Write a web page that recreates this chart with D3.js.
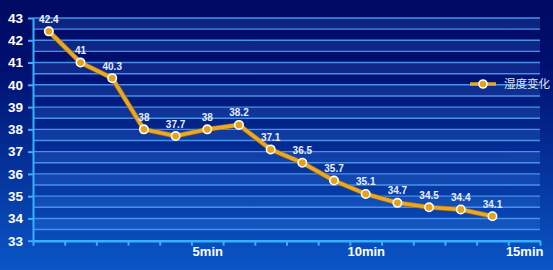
<!DOCTYPE html>
<html>
<head>
<meta charset="utf-8">
<script src="https://cdn.jsdelivr.net/npm/d3@7"></script>
<style>
  html, body { margin: 0; padding: 0; background: #00106a; }
  svg { display: block; }
</style>
</head>
<body>
<svg id="chart" width="553" height="270"></svg>
<script>
// ---- data ----
const minutes = [0, 1, 2, 3, 4, 5, 6, 7, 8, 9, 10, 11, 12, 13, 14];
const humidity = [42.4, 41, 40.3, 38, 37.7, 38, 38.2, 37.1, 36.5, 35.7, 35.1, 34.7, 34.5, 34.4, 34.1];
const xTickLabels = [[5, "5min"], [10, "10min"], [15, "15min"]];
const yTicks = [33, 34, 35, 36, 37, 38, 39, 40, 41, 42, 43];
const seriesName = "湿度变化";

const W = 553, H = 270;
const plotLeft = 33, plotRight = 540, plotTop = 18, plotBottom = 240.7;

const svg = d3.select("#chart");
const defs = svg.append("defs");
const bg = defs.append("linearGradient").attr("id", "bg").attr("x1", 0).attr("y1", 0).attr("x2", 0).attr("y2", 1);
bg.append("stop").attr("offset", "0%").attr("stop-color", "#000a62");
bg.append("stop").attr("offset", "25%").attr("stop-color", "#001070");
bg.append("stop").attr("offset", "100%").attr("stop-color", "#0a56c6");
svg.append("rect").attr("width", W).attr("height", H).attr("fill", "url(#bg)");

const x = d3.scaleLinear().domain([-0.5, 15.5]).range([plotLeft, plotRight]);
const y = d3.scaleLinear().domain([33, 43]).range([plotBottom, plotTop]);

// alternating bands
const halfSteps = d3.range(33, 43, 0.5);
svg.append("g").selectAll("rect").data(halfSteps.filter((v, i) => i % 2 === 1)).join("rect")
  .attr("x", plotLeft).attr("width", plotRight - plotLeft)
  .attr("y", d => y(d + 0.5)).attr("height", d => y(d) - y(d + 0.5))
  .attr("fill", "#3f8cf0").attr("fill-opacity", 0.2);

// grid lines every 0.5
svg.append("g").selectAll("line").data(d3.range(33.5, 43.01, 0.5)).join("line")
  .attr("x1", plotLeft).attr("x2", plotRight)
  .attr("y1", d => y(d)).attr("y2", d => y(d))
  .attr("stroke", "#4a90ea").attr("stroke-width", 1.4);

// y axis
const yAxis = svg.append("g").attr("transform", `translate(${plotLeft},0)`)
  .call(d3.axisLeft(y).tickValues(yTicks).tickSize(5).tickPadding(5).tickSizeOuter(0));
yAxis.select(".domain").attr("stroke", "#36b0ff").attr("stroke-width", 2);
yAxis.selectAll(".tick line").attr("stroke", "#36b0ff").attr("stroke-width", 2);
yAxis.selectAll("text").attr("fill", "#ffffff").attr("font-family", "Liberation Sans, Arial, sans-serif")
  .attr("font-weight", "bold").attr("font-size", 13.5);

// x axis ticks at boundaries
const xAxis = svg.append("g").attr("transform", `translate(0,${plotBottom})`)
  .call(d3.axisBottom(x).tickValues(d3.range(-0.5, 15.6, 1)).tickSize(5).tickFormat("").tickSizeOuter(0));
xAxis.select(".domain").attr("stroke", "#36b0ff").attr("stroke-width", 2.5);
xAxis.selectAll(".tick line").attr("stroke", "#36b0ff").attr("stroke-width", 2);

const xLab = svg.append("g").attr("transform", `translate(0,${plotBottom})`)
  .call(d3.axisBottom(x).tickValues(xTickLabels.map(d => d[0]))
    .tickFormat(v => xTickLabels.find(d => d[0] === v)[1]).tickSize(0).tickPadding(6));
xLab.select(".domain").remove();
xLab.selectAll("text").attr("fill", "#ffffff").attr("font-family", "Liberation Sans, Arial, sans-serif")
  .attr("font-weight", "bold").attr("font-size", 13);

// line
const pts = minutes.map((m, i) => [m, humidity[i]]);
const line = d3.line().x(d => x(d[0])).y(d => y(d[1]));
svg.append("path").datum(pts).attr("d", line)
  .attr("fill", "none").attr("stroke", "#a86a10").attr("stroke-width", 5).attr("stroke-linejoin", "round");
svg.append("path").datum(pts).attr("d", line)
  .attr("fill", "none").attr("stroke", "#e6a928").attr("stroke-width", 3.6).attr("stroke-linejoin", "round");

svg.append("g").selectAll("circle").data(pts).join("circle")
  .attr("cx", d => x(d[0])).attr("cy", d => y(d[1])).attr("r", 4.2)
  .attr("fill", "#e3a11c").attr("stroke", "#ffffff").attr("stroke-width", 1.6);

svg.append("g").selectAll("text").data(pts).join("text")
  .attr("x", d => x(d[0])).attr("y", d => y(d[1]) - 8.5)
  .attr("text-anchor", "middle")
  .attr("fill", "#e6eeff").attr("font-family", "Liberation Sans, Arial, sans-serif")
  .attr("font-weight", "bold").attr("font-size", 10)
  .text(d => d[1]);

// legend
const lg = svg.append("g").attr("transform", "translate(470,84)");
lg.append("line").attr("x1", 0).attr("x2", 26).attr("y1", 0).attr("y2", 0)
  .attr("stroke", "#e6a928").attr("stroke-width", 3.5);
lg.append("circle").attr("cx", 13).attr("cy", 0).attr("r", 4)
  .attr("fill", "#e3a11c").attr("stroke", "#ffffff").attr("stroke-width", 1.6);
lg.append("text").attr("x", 34).attr("y", 0).attr("dy", "0.36em")
  .attr("fill", "#dfe6f5").attr("font-family", "Noto Sans CJK SC, sans-serif")
  .attr("font-size", 11.5).text(seriesName);
</script>
</body>
</html>
